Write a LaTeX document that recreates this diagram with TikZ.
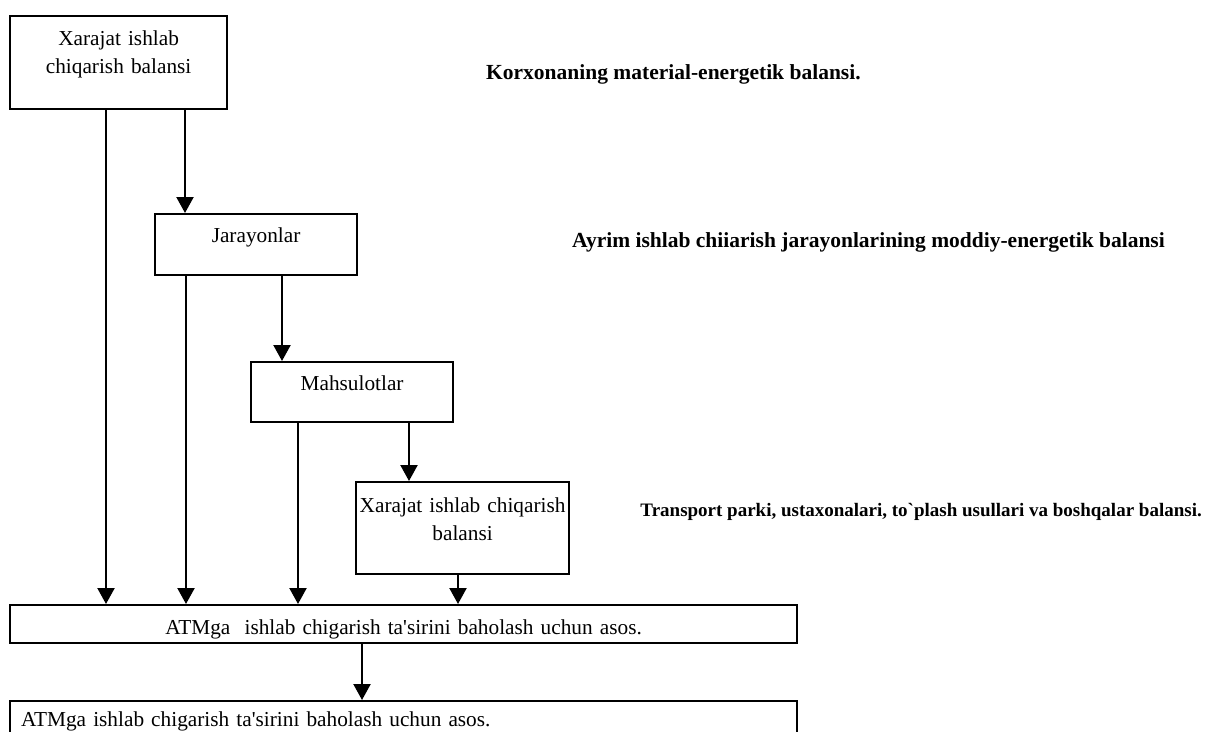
\documentclass[tikz,border=0pt]{standalone}
\usepackage{fontspec}
\setmainfont{Liberation Serif}
\usetikzlibrary{arrows.meta}

\def\txtfont{\fontsize{21.3}{28}\selectfont}
\def\lblfont{\fontsize{21.5}{26}\selectfont\bfseries}
\def\smlfont{\fontsize{19}{23}\selectfont\bfseries}
\def\apos{\textquotesingle}
\tikzset{box/.style={draw, line width=2.2pt, anchor=north west, inner sep=0pt,
      align=center, font=\txtfont},
    arr/.style={-{Triangle[width=17pt,length=16pt]}, line width=2.2pt},
    lbl/.style={inner sep=0pt, anchor=base east, font=\lblfont}}

\begin{document}
\begin{tikzpicture}[x=1pt,y=-1pt]
    \useasboundingbox (0,0) rectangle (1206,731);
    \clip (0,0) rectangle (1206,731);
    % boxes
    \node[box, text width=217pt, text height=29pt, text depth=64pt] (xb1) at (9,15)
      {Xarajat ishlab\\chiqarish balansi};
    \node[box, text width=202pt, text height=28pt, text depth=33pt] (jar) at (154,213)
      {Jarayonlar};
    \node[box, text width=202pt, text height=28pt, text depth=32pt] (mah) at (250,361)
      {Mahsulotlar};
    \node[box, text width=213pt, text height=30pt, text depth=62pt] (xb2) at (355,481)
      {Xarajat ishlab chiqarish\\balansi};
    \node[box, text width=787pt, text height=29pt, text depth=9pt] (atm) at (9,604)
      {ATMga\ \ ishlab chigarish ta\apos sirini baholash uchun asos.};
    \node[box, align=left, text width=787pt, text height=25pt, text depth=40pt] (atmb) at (9,700)
      {\hspace*{11pt}ATMga ishlab chigarish ta\apos sirini baholash uchun asos.};
    % connectors
    \foreach \x/\from/\to in {106/xb1/atm, 185/xb1/jar, 186/jar/atm, 282/jar/mah,
        298/mah/atm, 409/mah/xb2, 458/xb2/atm, 362/atm/atmb}
      \draw[arr] (\from.south -| \x,0) -- (\to.north -| \x,0);
    % side labels
    \node[lbl, anchor=base west] (korx) at (486,79) {Korxonaning material-energetik balansi.};
    \node[lbl] (ayrim) at (1165,247) {Ayrim ishlab chiiarish jarayonlarining moddiy-energetik balansi};
    \node[lbl, font=\smlfont] (trans) at (1202,516)
      {Transport parki, ustaxonalari, to\textasciigrave plash usullari va boshqalar balansi.};
\end{tikzpicture}
\end{document}
